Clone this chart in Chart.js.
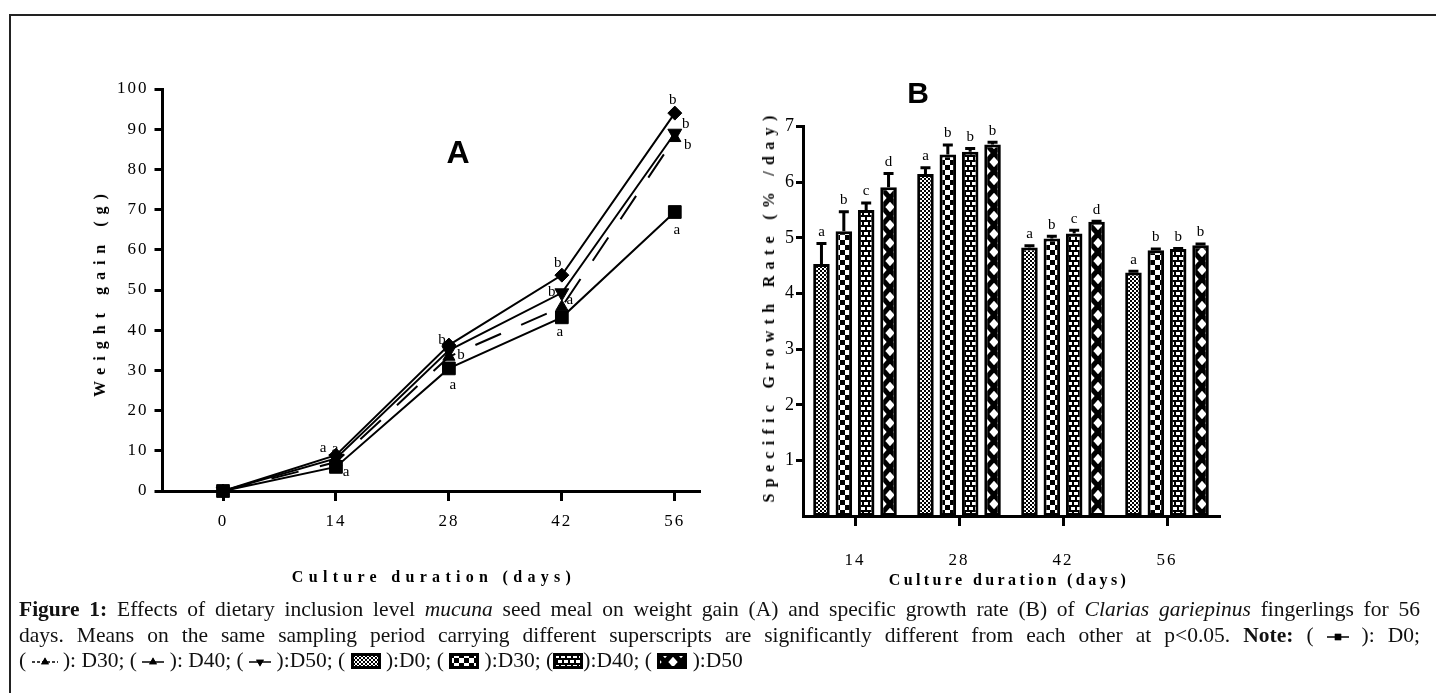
<!DOCTYPE html>
<html>
<head>
<meta charset="utf-8">
<script src="https://cdn.jsdelivr.net/npm/chart.js@4"></script>
<style>
  body { margin: 0; background: #fff; width: 1436px; height: 693px; overflow: hidden; position: relative; font-family: "Liberation Serif", serif; color: #000; }
  .frame { position: absolute; left: 9px; top: 14px; width: 1440px; height: 700px; border-top: 2px solid #222; border-left: 2px solid #222; }
  canvas.chart { position: absolute; top: 0; }
  .lbl { position: absolute; transform: translate(-50%, -50%); white-space: nowrap; font-weight: bold; }
  .rot { transform: translate(-50%, -50%) rotate(-90deg); }
  .panel { font-family: "Liberation Sans", Arial, sans-serif; font-weight: bold; }
  .caption { position: absolute; left: 19px; width: 1401px; font-size: 21.5px; line-height: 25.5px; color: #111; }
  .caption div { white-space: nowrap; }
  .caption div.j { text-align: justify; text-align-last: justify; }
  .caption canvas { vertical-align: -2px; }
</style>
</head>
<body>
<div class="frame"></div>
<canvas id="chartA" class="chart" width="730" height="600" style="left:0"></canvas>
<canvas id="chartB" class="chart" width="520" height="600" style="left:730px"></canvas>

<div class="lbl rot" style="left:100px; top:292px; font-size:16px; letter-spacing:7px;">Weight gain (g)</div>
<div class="lbl" style="left:434px; top:577px; font-size:16px; letter-spacing:5.3px;">Culture duration (days)</div>
<div class="lbl rot" style="left:769px; top:306px; font-size:16px; letter-spacing:6.3px;">Specific Growth Rate (% /day)</div>
<div class="lbl" style="left:1009px; top:580px; font-size:16px; letter-spacing:3.4px;">Culture duration (days)</div>
<div class="lbl panel" style="left:458px; top:152px; font-size:32px;">A</div>
<div class="lbl panel" style="left:918px; top:93px; font-size:30px;">B</div>

<div class="caption" style="top:597px">
  <div class="j"><b>Figure 1:</b> Effects of dietary inclusion level <i>mucuna</i> seed meal on weight gain (A) and specific growth rate (B) of <i>Clarias gariepinus</i> fingerlings for 56</div>
  <div class="j">days. Means on the same sampling period carrying different superscripts are significantly different from each other at p&lt;0.05. <b>Note:</b> ( <canvas class="glyph" data-series="0" width="22" height="14"></canvas> ): D0;</div>
  <div>( <canvas class="glyph" data-series="1" width="26" height="14"></canvas> ): D30; ( <canvas class="glyph" data-series="2" width="22" height="14"></canvas> ): D40; ( <canvas class="glyph" data-series="3" width="22" height="14"></canvas> ):D50; ( <canvas class="swatch" data-series="0" width="30" height="16"></canvas> ):D0; ( <canvas class="swatch" data-series="1" width="30" height="16"></canvas> ):D30; (<canvas class="swatch" data-series="2" width="30" height="16"></canvas>):D40; ( <canvas class="swatch" data-series="3" width="30" height="16"></canvas> ):D50</div>
</div>

<script>
// ---- Panel A: weight gain (g) ----
const days = [0, 14, 28, 42, 56];
const gainD0 = [0, 6.0, 30.5, 43.2, 69.4];
const gainD30 = [0, 7.2, 33.4, 45.8, 87.8];
const gainD40 = [0, 8.9, 36.3, 53.7, 94.0];
const gainD50 = [0, 8.1, 35.0, 49.3, 89.0];
const gainTicks = [0, 10, 20, 30, 40, 50, 60, 70, 80, 90, 100];
// superscript letters per point (blank = none printed)
const lettersD0 = ['', 'a', 'a', 'a', 'a'];
const lettersD30 = ['', '', 'b', 'a', 'b'];
const lettersD40 = ['', 'a', 'b', 'b', 'b'];
const lettersD50 = ['', 'a', '', 'b', 'b'];

// ---- Panel B: specific growth rate (%/day) ----
const periods = ['14', '28', '42', '56'];
const sgrD0 = [4.53, 6.15, 4.83, 4.38];
const sgrD30 = [5.12, 6.50, 4.99, 4.78];
const sgrD40 = [5.50, 6.55, 5.08, 4.80];
const sgrD50 = [5.91, 6.68, 5.29, 4.87];
const errD0 = [0.37, 0.11, 0.03, 0.02];
const errD30 = [0.35, 0.17, 0.04, 0.02];
const errD40 = [0.13, 0.06, 0.06, 0.01];
const errD50 = [0.25, 0.04, 0.01, 0.02];
const sgrLetD0 = ['a', 'a', 'a', 'a'];
const sgrLetD30 = ['b', 'b', 'b', 'b'];
const sgrLetD40 = ['c', 'b', 'c', 'b'];
const sgrLetD50 = ['d', 'b', 'd', 'b'];
const sgrTicks = [1, 2, 3, 4, 5, 6, 7];

// label nudges (px) for panel A letters, per series / point
const nudgeA = [
  [[0, 0], [10, 5], [4, 17], [-2, 15], [2, 18]],
  [[0, 0], [0, 0], [12, -2], [8, -7], [13, 7]],
  [[0, 0], [-13, -7], [-7, -5], [-4, -12], [-2, -13]],
  [[0, 0], [-1, -9], [0, 0], [-10, -1], [11, -9]]
];

function makePattern(kind) {
  const c = document.createElement('canvas');
  const g = c.getContext('2d');
  if (kind === 'fine') {
    c.width = 4; c.height = 4;
    g.fillStyle = '#fff'; g.fillRect(0, 0, 4, 4);
    g.fillStyle = '#000'; g.fillRect(0, 0, 2, 2); g.fillRect(2, 2, 2, 2);
  } else if (kind === 'check') {
    c.width = 10; c.height = 10;
    g.fillStyle = '#fff'; g.fillRect(0, 0, 10, 10);
    g.fillStyle = '#000'; g.fillRect(0, 0, 5, 5); g.fillRect(5, 5, 5, 5);
  } else if (kind === 'brick') {
    c.width = 12; c.height = 10;
    g.fillStyle = '#fff'; g.fillRect(0, 0, 12, 10);
    g.fillStyle = '#000';
    g.fillRect(0, 0, 12, 2); g.fillRect(0, 5, 12, 2);
    g.fillRect(0, 2, 2, 3); g.fillRect(6, 2, 2, 3);
    g.fillRect(3, 7, 2, 3); g.fillRect(9, 7, 2, 3);
  } else {
    c.width = 16; c.height = 18;
    g.fillStyle = '#fff'; g.fillRect(0, 0, 16, 18);
    g.strokeStyle = '#000'; g.lineWidth = 5;
    g.beginPath();
    g.moveTo(-8, -9); g.lineTo(24, 27);
    g.moveTo(24, -9); g.lineTo(-8, 27);
    g.stroke();
  }
  return g.createPattern(c, 'repeat');
}
const fills = [makePattern('fine'), makePattern('check'), makePattern('brick'), makePattern('cross')];

const tickFont = { family: '"Liberation Serif", serif', size: 17 };
const spacing = {
  id: 'spacing',
  beforeDraw(chart) { chart.ctx.letterSpacing = '2px'; }
};

const lineSeries = [
  { label: 'D0', data: gainD0, pointStyle: 'rect', radius: 9, rotation: 0, dash: [], letters: lettersD0 },
  { label: 'D30', data: gainD30, pointStyle: 'triangle', radius: 7, rotation: 0, dash: [28, 22], letters: lettersD30 },
  { label: 'D40', data: gainD40, pointStyle: 'rectRot', radius: 7, rotation: 0, dash: [], letters: lettersD40 },
  { label: 'D50', data: gainD50, pointStyle: 'triangle', radius: 8, rotation: 180, dash: [], letters: lettersD50 }
];

const lettersA = {
  id: 'lettersA',
  afterDatasetsDraw(chart) {
    const ctx = chart.ctx;
    ctx.save();
    ctx.letterSpacing = '0px';
    ctx.font = '15px "Liberation Serif", serif';
    ctx.fillStyle = '#000';
    ctx.textAlign = 'center';
    ctx.textBaseline = 'middle';
    lineSeries.forEach((s, si) => {
      chart.getDatasetMeta(si).data.forEach((pt, i) => {
        const t = s.letters[i];
        if (!t) return;
        ctx.fillText(t, pt.x + nudgeA[si][i][0], pt.y + nudgeA[si][i][1]);
      });
    });
    ctx.restore();
  }
};

new Chart(document.getElementById('chartA'), {
  type: 'line',
  data: {
    datasets: lineSeries.map(s => ({
      label: s.label,
      data: days.map((d, i) => ({ x: d, y: s.data[i] })),
      borderColor: '#000',
      backgroundColor: '#000',
      borderWidth: 2,
      borderDash: s.dash,
      pointStyle: s.pointStyle,
      pointRadius: s.radius,
      pointRotation: s.rotation,
      pointBorderWidth: 1,
      tension: 0,
      clip: false
    }))
  },
  options: {
    responsive: false,
    animation: false,
    layout: { padding: { top: 89, right: 31, left: 0, bottom: 0 } },
    plugins: { legend: { display: false }, tooltip: { enabled: false } },
    scales: {
      x: {
        type: 'linear', min: -7.5, max: 59,
        afterBuildTicks: sc => { sc.ticks = days.map(v => ({ value: v })); },
        afterFit: sc => { sc.height = 109; },
        grid: { drawOnChartArea: false, color: '#000', lineWidth: 3, tickLength: 10 },
        border: { color: '#000', width: 3 },
        ticks: { font: tickFont, color: '#000', padding: 10, maxRotation: 0 }
      },
      y: {
        min: 0, max: 100,
        afterBuildTicks: sc => { sc.ticks = gainTicks.map(v => ({ value: v })); },
        afterFit: sc => { sc.width = 162.5; },
        grid: { drawOnChartArea: false, color: '#000', lineWidth: 3, tickLength: 8 },
        border: { color: '#000', width: 3 },
        ticks: { font: tickFont, color: '#000', padding: 6 }
      }
    }
  },
  plugins: [spacing, lettersA]
});

const barSeries = [
  { label: 'D0', data: sgrD0, err: errD0, letters: sgrLetD0 },
  { label: 'D30', data: sgrD30, err: errD30, letters: sgrLetD30 },
  { label: 'D40', data: sgrD40, err: errD40, letters: sgrLetD40 },
  { label: 'D50', data: sgrD50, err: errD50, letters: sgrLetD50 }
];

const errorBars = {
  id: 'errorBars',
  afterDatasetsDraw(chart) {
    const ctx = chart.ctx;
    const y = chart.scales.y;
    ctx.save();
    ctx.letterSpacing = '0px';
    ctx.strokeStyle = '#000';
    ctx.lineWidth = 3;
    ctx.fillStyle = '#000';
    ctx.font = '15px "Liberation Serif", serif';
    ctx.textAlign = 'center';
    ctx.textBaseline = 'bottom';
    barSeries.forEach((s, si) => {
      chart.getDatasetMeta(si).data.forEach((bar, i) => {
        const top = y.getPixelForValue(s.data[i] + s.err[i]);
        ctx.beginPath();
        ctx.moveTo(bar.x, bar.y);
        ctx.lineTo(bar.x, top);
        ctx.moveTo(bar.x - 5, top);
        ctx.lineTo(bar.x + 5, top);
        ctx.stroke();
        ctx.fillText(s.letters[i], bar.x, top - 4);
      });
    });
    ctx.restore();
  }
};

new Chart(document.getElementById('chartB'), {
  type: 'bar',
  data: {
    labels: periods,
    datasets: barSeries.map((s, si) => ({
      label: s.label,
      data: s.data,
      backgroundColor: fills[si],
      borderColor: '#000',
      borderWidth: 3,
      borderSkipped: false,
      categoryPercentage: 0.86,
      barPercentage: 0.74
    }))
  },
  options: {
    responsive: false,
    animation: false,
    layout: { padding: { top: 126.7, right: 31, left: 0, bottom: 0 } },
    plugins: { legend: { display: false }, tooltip: { enabled: false } },
    scales: {
      x: {
        offset: true,
        afterFit: sc => { sc.height = 84; },
        grid: { offset: false, drawOnChartArea: false, color: '#000', lineWidth: 3, tickLength: 10 },
        border: { color: '#000', width: 3 },
        ticks: { font: tickFont, color: '#000', padding: 24 }
      },
      y: {
        min: 0, max: 7,
        afterBuildTicks: sc => { sc.ticks = sgrTicks.map(v => ({ value: v })); },
        afterFit: sc => { sc.width = 73; },
        grid: { drawOnChartArea: false, color: '#000', lineWidth: 3, tickLength: 7 },
        border: { color: '#000', width: 3 },
        ticks: { font: { family: '"Liberation Serif", serif', size: 18 }, color: '#000', padding: 0 }
      }
    }
  },
  plugins: [spacing, errorBars]
});

// caption legend glyphs
document.querySelectorAll('canvas.glyph').forEach(c => {
  const s = lineSeries[+c.dataset.series];
  const g = c.getContext('2d');
  g.strokeStyle = '#000'; g.fillStyle = '#000'; g.lineWidth = 1.5;
  g.setLineDash(s.dash.length ? [3, 2] : []);
  g.beginPath(); g.moveTo(0, 7); g.lineTo(c.width, 7); g.stroke();
  Chart.helpers.drawPoint(g, { pointStyle: s.pointStyle === 'rectRot' ? 'triangle' : s.pointStyle, rotation: s.rotation, radius: 4.5, borderWidth: 0 }, c.width / 2, 7);
  g.fill();
});
document.querySelectorAll('canvas.swatch').forEach(c => {
  const g = c.getContext('2d');
  g.fillStyle = fills[+c.dataset.series];
  g.fillRect(0, 0, c.width, c.height);
  g.strokeStyle = '#000'; g.lineWidth = 3;
  g.strokeRect(1.5, 1.5, c.width - 3, c.height - 3);
});
</script>
</body>
</html>
